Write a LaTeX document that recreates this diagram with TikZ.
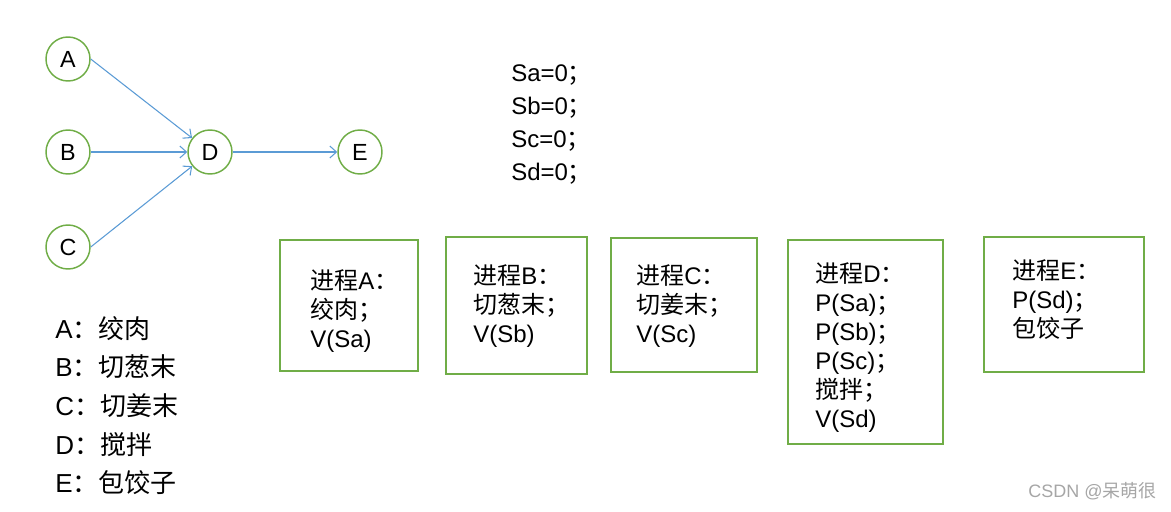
\documentclass[tikz,border=0pt]{standalone}
\usepackage{fontspec}
\setmainfont{Liberation Sans}
\newfontfamily\cjk{Noto Sans CJK SC}
\usetikzlibrary{arrows.meta}
\definecolor{cgreen}{HTML}{70AD47}
\definecolor{cblue}{HTML}{5B9BD5}
\newcommand{\zh}[1]{{\cjk #1}}
\begin{document}
\begin{tikzpicture}[x=0.75pt,y=-0.75pt,
  state/.style={circle, draw=cgreen, line width=1.1pt, minimum size=33pt, inner sep=0pt, font=\fontsize{17.5}{20}\selectfont},
  edge/.style={draw=cblue, line width=0.8pt, -{Straight Barb[length=5pt,width=9pt]}},
  proc/.style={draw=cgreen, line width=1.1pt},
  boxtext/.style={anchor=west, align=left, inner sep=0pt, font=\fontsize{18}{21.75}\selectfont},
  legend/.style={anchor=west, align=left, inner sep=0pt, font=\fontsize{19.5}{29}\selectfont},
  sems/.style={anchor=west, align=left, inner sep=0pt, font=\fontsize{18}{24.75}\selectfont},
  wmark/.style={anchor=east, inner sep=0pt, text=black!35, font=\fontsize{13.5}{16}\selectfont}]
\useasboundingbox (0,0) rectangle (1171,511);
% graph
\node[state] (A) at (68,59) {A};
\node[state] (B) at (68,152) {B};
\node[state] (C) at (68,247) {C};
\node[state] (D) at (210,152) {D};
\node[state] (E) at (360,152) {E};
\draw[edge] (A.east) -- (D);
\draw[edge] (B) -- (D);
\draw[edge] (C.east) -- (D);
\draw[edge] (D) -- (E);
% semaphores
\node[sems] (S) at (511,124.5) {Sa=0\zh{；}\\Sb=0\zh{；}\\Sc=0\zh{；}\\Sd=0\zh{；}};
% legend
\node[legend] (L) at (55,405.5) {A\zh{：绞肉}\\B\zh{：切葱末}\\C\zh{：切姜末}\\D\zh{：搅拌}\\E\zh{：包饺子}};
% process boxes
\draw[proc] (280,240) rectangle (418,371);
\node[boxtext] (PA) at (310,311.5) {\zh{进程}A\zh{：}\\\zh{绞肉；}\\V(Sa)};
\draw[proc] (446,237) rectangle (587,374);
\node[boxtext] (PB) at (473,306.5) {\zh{进程}B\zh{：}\\\zh{切葱末；}\\V(Sb)};
\draw[proc] (611,238) rectangle (757,372);
\node[boxtext] (PC) at (636,306.5) {\zh{进程}C\zh{：}\\\zh{切姜末；}\\V(Sc)};
\draw[proc] (788,240) rectangle (943,444);
\node[boxtext] (PD) at (815,348) {\zh{进程}D\zh{：}\\P(Sa)\zh{；}\\P(Sb)\zh{；}\\P(Sc)\zh{；}\\\zh{搅拌；}\\V(Sd)};
\draw[proc] (984,237) rectangle (1144,372);
\node[boxtext] (PE) at (1012,300) {\zh{进程}E\zh{：}\\P(Sd)\zh{；}\\\zh{包饺子}};
% watermark
\node[wmark] (W) at (1157,491) {CSDN @\zh{呆萌很}};
\end{tikzpicture}
\end{document}
